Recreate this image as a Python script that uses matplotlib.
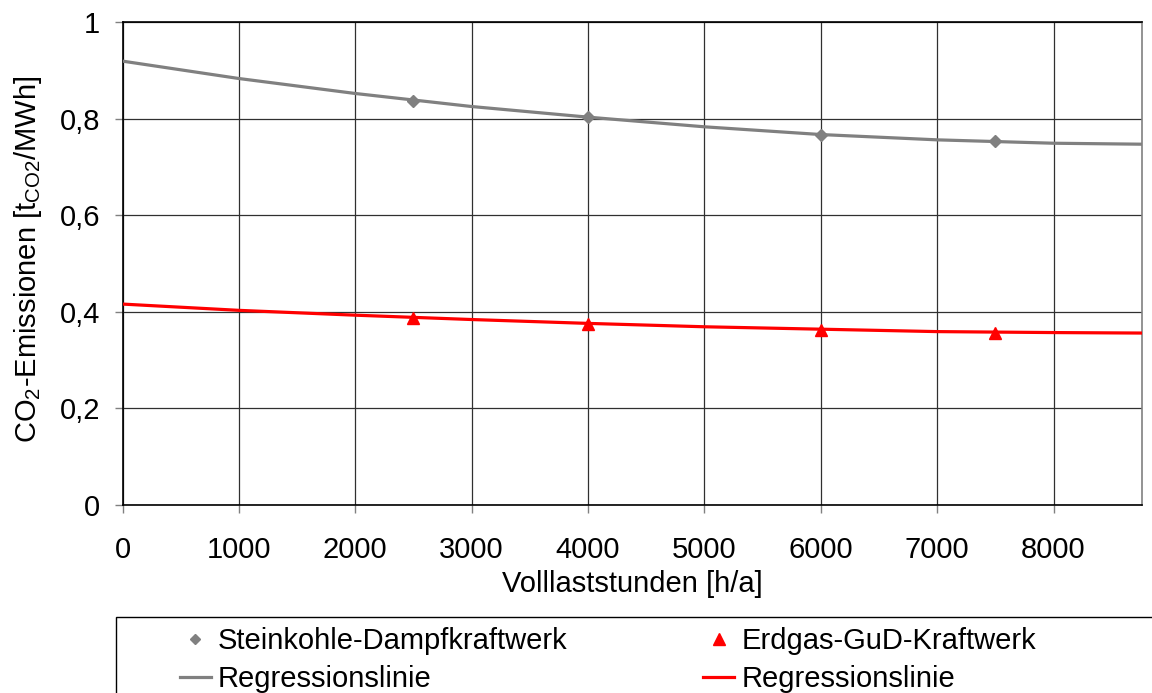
import matplotlib
matplotlib.use("Agg")
import matplotlib.pyplot as plt
from matplotlib.patches import Rectangle
from matplotlib.lines import Line2D

plt.rcParams['font.family'] = ['Liberation Sans', 'DejaVu Sans']
plt.rcParams['mathtext.fontset'] = 'custom'
plt.rcParams['mathtext.rm'] = 'Liberation Sans'
plt.rcParams['mathtext.it'] = 'Liberation Sans'

# Data
hours = [2500, 4000, 6000, 7500]
coal = [0.837, 0.803, 0.766, 0.753]
gas = [0.387, 0.374, 0.362, 0.357]

reg_hours = [0, 1000, 2000, 3000, 4000, 5000, 6000, 7000, 8000, 8760]
coal_reg = [0.919, 0.883, 0.852, 0.825, 0.803, 0.783, 0.767, 0.756, 0.749, 0.747]
gas_reg = [0.416, 0.403, 0.393, 0.384, 0.376, 0.369, 0.364, 0.359, 0.357, 0.356]

xticks = [0, 1000, 2000, 3000, 4000, 5000, 6000, 7000, 8000]
yticks = [0, 0.2, 0.4, 0.6, 0.8, 1.0]
ytick_labels = ['0', '0,2', '0,4', '0,6', '0,8', '1']

labels = ['Steinkohle-Dampfkraftwerk', 'Regressionslinie',
          'Erdgas-GuD-Kraftwerk', 'Regressionslinie']

GRAY = '#808080'
RED = '#ff0000'
FS = 21

fig = plt.figure(figsize=(11.52, 6.93), dpi=100)
ax = fig.add_axes([122.5/1152, 1 - 505/693, (1142-122.5)/1152, (505-22)/693])

ax.plot(reg_hours, coal_reg, color=GRAY, lw=2.3, zorder=3)
ax.plot(reg_hours, gas_reg, color=RED, lw=2.3, zorder=3)
ax.plot(hours, coal, linestyle='none', marker='D', ms=6.5, color=GRAY, zorder=4)
ax.plot(hours, gas, linestyle='none', marker='^', ms=9, color=RED, zorder=4)

ax.set_xlim(0, 8760)
ax.set_ylim(0, 1)
ax.set_xticks(xticks)
ax.set_xticklabels([str(v) for v in xticks])
ax.set_yticks(yticks)
ax.set_yticklabels(ytick_labels)
ax.grid(True, color='#303030', lw=0.9)
ax.set_axisbelow(True)
for s in ax.spines.values():
    s.set_color('black')
    s.set_linewidth(1.2)
ax.spines['right'].set_color(GRAY)
ax.tick_params(axis='both', direction='out', length=6, width=1.0, color=GRAY,
               labelsize=FS)
ax.tick_params(axis='x', pad=16)
ax.tick_params(axis='y', pad=10)

ax.set_xlabel('Volllaststunden [h/a]', fontsize=FS, labelpad=5)
ax.set_ylabel('CO$_2$-Emissionen [t$_{\\mathrm{CO2}}$/MWh]', fontsize=FS, labelpad=11)
ax.yaxis.label.set_y(0.51)

# Legend frame (extends beyond figure edge as in reference)
fig.patches.append(Rectangle((115.5/1152, -0.05), 1.1, (693-617)/693 + 0.05,
                             transform=fig.transFigure, fill=False,
                             edgecolor='black', lw=1.0, clip_on=False))

handles = [
    Line2D([], [], linestyle='none', marker='D', ms=5.5, color=GRAY),
    Line2D([], [], color=GRAY, lw=2.3),
    Line2D([], [], linestyle='none', marker='^', ms=9, color=RED),
    Line2D([], [], color=RED, lw=2.3),
]
fig.legend(handles, labels, ncol=2, frameon=False, fontsize=FS,
           loc='upper left', bbox_to_anchor=(180/1152, 1 - 627/693),
           handlelength=1.06, handletextpad=0.24, columnspacing=4.66,
           labelspacing=0.35, borderpad=0, borderaxespad=0)

fig.savefig('out.png', dpi=100)
